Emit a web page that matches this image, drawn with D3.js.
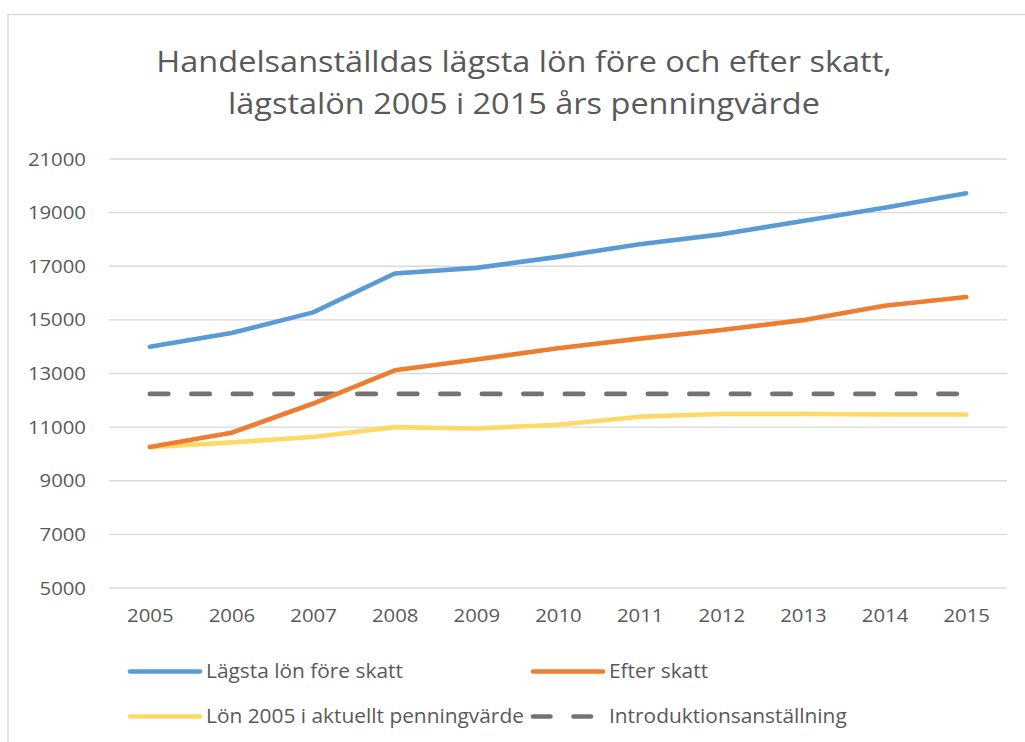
<!DOCTYPE html>
<html><head><meta charset="utf-8">
<script src="https://cdn.jsdelivr.net/npm/d3@7"></script>
<style>body{margin:0;background:#fff}svg{display:block}text{font-family:"Open Sans",sans-serif;fill:#595959}</style>
</head><body><svg id="c" width="1025" height="742"></svg>
<script>
const years = ["2005","2006","2007","2008","2009","2010","2011","2012","2013","2014","2015"];
const foreSkatt = [14000,14510,15280,16730,16940,17350,17820,18190,18690,19180,19720];
const efterSkatt = [10260,10790,11880,13120,13520,13940,14300,14620,14990,15530,15850];
const lon2005 = [10250,10430,10630,11000,10950,11090,11390,11490,11490,11470,11470];
const intro = years.map(()=>12240);
const yTicks = [5000,7000,9000,11000,13000,15000,17000,19000,21000];
const titleLines = ["Handelsanställdas lägsta lön före och efter skatt,","lägstalön 2005 i 2015 års penningvärde"];
const seriesNames = ["Lägsta lön före skatt","Efter skatt","Lön 2005 i aktuellt penningvärde","Introduktionsanställning"];
const colors = ["#5B9BD5","#ED7D31","#FFD966","#767171"];

const svg = d3.select("#c");
function widen(sel, k){
  sel.each(function(){ const w=this.getComputedTextLength(); d3.select(this).attr("textLength",w*k).attr("lengthAdjust","spacingAndGlyphs"); });
}
svg.append("path").attr("d","M8,742 V14.5 H1025").attr("fill","none").attr("stroke","#D9D9D9").attr("stroke-width",1.5);

const x = d3.scalePoint().domain(years).range([109,1007]).padding(0.5);
const y = d3.scaleLinear().domain([5000,21000]).range([588,159]);

const tt = svg.append("g").selectAll("text").data(titleLines).join("text")
  .attr("x",524).attr("y",(d,i)=>72+i*42).attr("text-anchor","middle").style("font-size","29px").text(d=>d);
widen(tt, 1.12);

svg.append("g").selectAll("line").data(yTicks).join("line")
  .attr("x1",109).attr("x2",1007).attr("y1",d=>y(d)).attr("y2",d=>y(d))
  .attr("stroke","#D9D9D9").attr("stroke-width",1.3);

const ya = svg.append("g").attr("transform","translate(109,0)")
  .call(d3.axisLeft(y).tickValues(yTicks).tickFormat(d3.format("d")).tickSize(0).tickPadding(23));
ya.select(".domain").remove();
ya.selectAll("text").style("font-size","19px").attr("fill","#595959").style("font-family","'Open Sans',sans-serif");
widen(ya.selectAll("text"), 1.07);

const xa = svg.append("g").attr("transform","translate(0,588)")
  .call(d3.axisBottom(x).tickSize(0).tickPadding(21));
xa.select(".domain").remove();
xa.selectAll("text").style("font-size","19px").attr("fill","#595959").style("font-family","'Open Sans',sans-serif");
widen(xa.selectAll("text"), 1.07);

const line = d3.line().x((d,i)=>x(years[i])).y(d=>y(d));
const data = [foreSkatt, efterSkatt, lon2005, intro];
[3,2,1,0].forEach(k=>{
  svg.append("path").datum(data[k]).attr("d",line).attr("fill","none")
    .attr("stroke",colors[k]).attr("stroke-width",4.6)
    .attr("stroke-linecap","round").attr("stroke-linejoin","round")
    .attr("stroke-dasharray", k===3 ? "18.5,23" : null);
});

const leg = [{k:0,x:130,y:671.5},{k:1,x:533,y:671.5},{k:2,x:130,y:716.5},{k:3,x:533,y:716.5}];
leg.forEach(l=>{
  svg.append("line").attr("x1",l.x).attr("x2",l.x+(l.k===3?63:70)).attr("y1",l.y).attr("y2",l.y)
    .attr("stroke",colors[l.k]).attr("stroke-width",4.6).attr("stroke-linecap","round")
    .attr("stroke-dasharray", l.k===3 ? "17.5,23" : null);
  const t = svg.append("text").attr("x",l.x+76).attr("y",l.y).attr("dy","0.35em").style("font-size","19.5px").text(seriesNames[l.k]);
  widen(t, 1.07);
});
</script></body></html>
